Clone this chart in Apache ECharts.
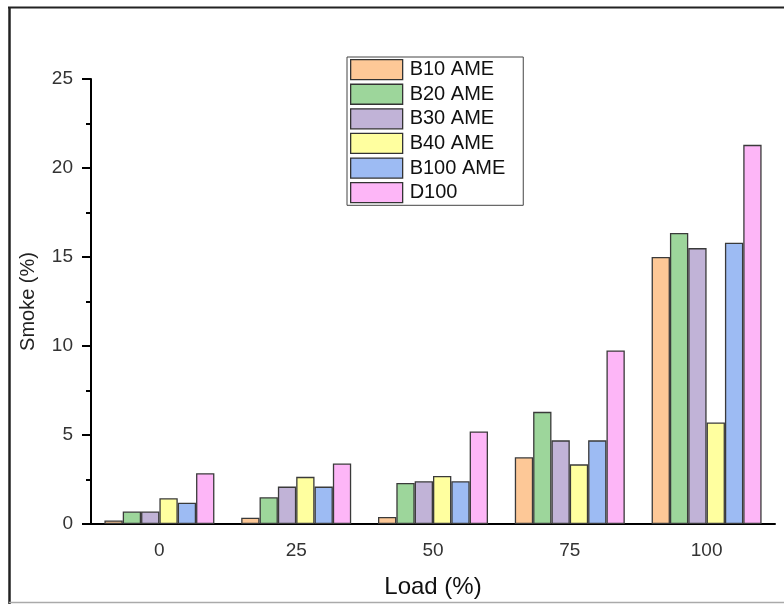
<!DOCTYPE html>
<html>
<head>
<meta charset="utf-8">
<script src="https://cdn.jsdelivr.net/npm/echarts@6/dist/echarts.min.js"></script>
<style>
  html, body { margin: 0; padding: 0; background: #fff; }
  #chart { width: 784px; height: 604px; }
</style>
</head>
<body>
<div id="chart"></div>
<script>
// load levels (%)
const loads = ['0', '25', '50', '75', '100']
const seriesNames = ['B10 AME', 'B20 AME', 'B30 AME', 'B40 AME', 'B100 AME', 'D100']
const b10 = [0.2, 0.35, 0.4, 3.75, 15.0]
const b20 = [0.7, 1.5, 2.3, 6.3, 16.35]
const b30 = [0.7, 2.1, 2.4, 4.7, 15.5]
const b40 = [1.45, 2.65, 2.7, 3.35, 5.7]
const b100 = [1.2, 2.1, 2.4, 4.7, 15.8]
const d100 = [2.85, 3.4, 5.2, 9.75, 21.3]
const colors = ['#FDC897', '#9DD69B', '#C1B3D7', '#FFFF9F', '#9DBBF3', '#FDB6F7']

const allData = [b10, b20, b30, b40, b100, d100]
const font = 'Liberation Sans, Arial, sans-serif'

const chart = echarts.init(document.getElementById('chart'))
chart.setOption({
  animation: false,
  backgroundColor: '#fff',
  textStyle: { fontFamily: font },
  grid: { left: 91, right: 9, top: 79, bottom: 79 },
  legend: {
    orient: 'vertical',
    left: 347,
    top: 57,
    icon: 'rect',
    itemWidth: 52,
    itemHeight: 20,
    itemGap: 3.3,
    padding: [2, 18, 2, 3],
    borderColor: '#444',
    borderWidth: 1,
    itemStyle: { borderColor: '#333', borderWidth: 1.3 },
    textStyle: { fontSize: 20, lineHeight: 20, color: '#111', fontFamily: font, padding: [0, 0, 0, 2] },
    data: seriesNames
  },
  xAxis: [
    {
      type: 'category',
      data: loads,
      position: 'bottom',
      name: 'Load (%)',
      nameLocation: 'middle',
      nameGap: 51,
      nameTextStyle: { fontSize: 24, color: '#111', fontFamily: font },
      axisLine: { lineStyle: { color: '#000', width: 2 } },
      axisTick: { alignWithLabel: true, length: 8, lineStyle: { color: '#000', width: 2 } },
      axisLabel: { fontSize: 19, color: '#333', margin: 17, fontFamily: font }
    },
    {
      type: 'category',
      data: loads,
      position: 'bottom',
      axisLine: { show: false },
      axisTick: { length: 4, lineStyle: { color: '#000', width: 2 } },
      axisLabel: { show: false }
    }
  ],
  yAxis: {
    type: 'value',
    min: 0,
    max: 25,
    interval: 5,
    name: 'Smoke (%)',
    nameLocation: 'middle',
    nameGap: 53,
    nameTextStyle: { fontSize: 20, color: '#222', fontFamily: font },
    axisLine: { show: true, lineStyle: { color: '#000', width: 2 } },
    axisTick: { show: true, length: 9, lineStyle: { color: '#000', width: 2 } },
    minorTick: { show: true, splitNumber: 2, length: 5, lineStyle: { color: '#000', width: 2 } },
    splitLine: { show: false },
    axisLabel: { fontSize: 19, color: '#333', margin: 18, fontFamily: font }
  },
  series: seriesNames.map((name, i) => ({
    name: name,
    type: 'bar',
    data: allData[i],
    barGap: '0%',
    barCategoryGap: '19.6%',
    itemStyle: { color: colors[i], borderColor: '#3a3a3a', borderWidth: 1.3 }
  })),
  graphic: [
    { type: 'line', shape: { x1: 8, y1: 7.5, x2: 784, y2: 7.5 }, style: { stroke: '#222', lineWidth: 2 } },
    { type: 'line', shape: { x1: 9.5, y1: 7, x2: 9.5, y2: 604 }, style: { stroke: '#222', lineWidth: 2.5 } },
    { type: 'line', shape: { x1: 9, y1: 602.5, x2: 784, y2: 602.5 }, style: { stroke: '#aaa', lineWidth: 1.5 } }
  ]
})
</script>
</body>
</html>
